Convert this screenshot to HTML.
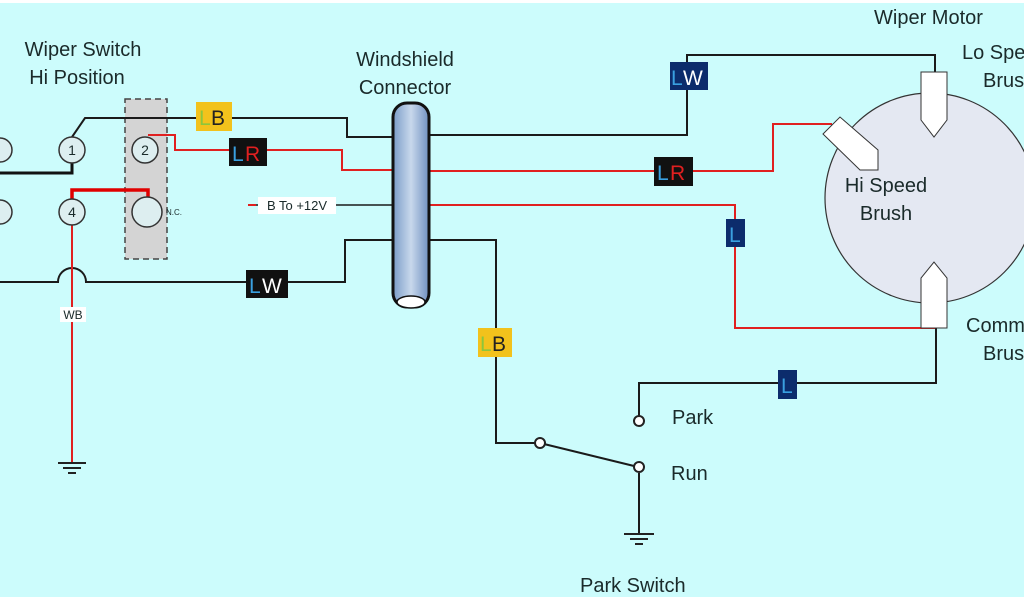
<!DOCTYPE html>
<html><head><meta charset="utf-8"><style>
html,body{margin:0;padding:0;background:#ccfcfc;}
svg{display:block;}
text{font-family:"Liberation Sans",sans-serif;fill:#1a2a2a;}
</style></head><body>
<svg width="1024" height="600" viewBox="0 0 1024 600" xmlns="http://www.w3.org/2000/svg">
<rect x="0" y="0" width="1024" height="600" fill="#ccfcfc"/>
<rect x="0" y="0" width="1024" height="3" fill="#fff"/>
<rect x="0" y="597" width="1024" height="3" fill="#fff"/>
<rect x="125" y="99" width="42" height="160" fill="#d4d4d4" stroke="#444" stroke-width="1.5" stroke-dasharray="6,4"/>
<g fill="none" stroke-linejoin="miter">
<path d="M72,137 L85,118 L347,118 L347,137 L392,137" stroke="#1a1a1a" stroke-width="2"/>
<path d="M72,163 L72,173 L0,173" stroke="#111" stroke-width="3"/>
<path d="M0,282 L58,282 A14,14 0 0 1 86,282 L345,282 L345,240 L392,240" stroke="#1a1a1a" stroke-width="2"/>
<path d="M148,135 L175,135 L175,150 L342,150 L342,170 L392,170" stroke="#e02020" stroke-width="2"/>
<path d="M72,200 L72,190 L148,190 L148,200" stroke="#e00000" stroke-width="3.5"/>
<path d="M72,224 L72,463" stroke="#e02020" stroke-width="2"/>
<path d="M248,205 L392,205" stroke="#1a1a1a" stroke-width="1.5"/>
<path d="M248,205 L256,205" stroke="#e02020" stroke-width="2"/>
<path d="M430,135 L687,135 L687,55 L935,55 L935,75" stroke="#1a1a1a" stroke-width="2"/>
<path d="M430,171 L773,171 L773,124 L832,124" stroke="#e02020" stroke-width="2"/>
<path d="M430,205 L735,205 L735,328 L935,328" stroke="#e02020" stroke-width="2"/>
<path d="M430,240 L496,240 L496,443 L536,443" stroke="#1a1a1a" stroke-width="2"/>
<path d="M544,444 L634,466" stroke="#1a1a1a" stroke-width="2"/>
<path d="M639,473 L639,533" stroke="#1a1a1a" stroke-width="2"/>
<path d="M639,417 L639,383 L936,383 L936,328" stroke="#1a1a1a" stroke-width="2"/>
</g>
<g stroke="#222" stroke-width="2">
<line x1="58" y1="463" x2="86" y2="463"/><line x1="63" y1="468" x2="81" y2="468"/><line x1="68" y1="473" x2="76" y2="473"/>
<line x1="624" y1="534" x2="654" y2="534"/><line x1="630" y1="539" x2="648" y2="539"/><line x1="635" y1="544" x2="643" y2="544"/>
</g>
<g fill="#ddeef0" stroke="#333" stroke-width="1.5">
<circle cx="72" cy="150" r="13"/><circle cx="72" cy="212" r="13"/>
<circle cx="0" cy="150" r="12"/><circle cx="0" cy="212" r="12"/>
<circle cx="145" cy="150" r="13"/><circle cx="147" cy="212" r="15"/>
</g>
<g font-size="14" text-anchor="middle"><text x="72" y="155">1</text><text x="72" y="217">4</text><text x="145" y="155">2</text></g>
<text x="166" y="215" font-size="8">N.C.</text>
<defs><linearGradient id="g" x1="0" x2="1"><stop offset="0" stop-color="#7a9cc8"/><stop offset="0.5" stop-color="#c8d8ec"/><stop offset="1" stop-color="#7090c0"/></linearGradient></defs>
<rect x="393" y="103" width="36" height="204" rx="14" fill="url(#g)" stroke="#111" stroke-width="3"/>
<ellipse cx="411" cy="302" rx="14" ry="6" fill="#fff" stroke="#111" stroke-width="1.5"/>
<circle cx="930" cy="198" r="105" fill="#e4e8f2" stroke="#333" stroke-width="1.2"/>
<polygon points="921,72 947,72 947,120 934,137 921,120" fill="#fff" stroke="#333" stroke-width="1"/>
<polygon points="921,328 947,328 947,278 934,262 921,278" fill="#fff" stroke="#333" stroke-width="1"/>
<polygon points="823,134 840,117 878,150 878,170 860,170" fill="#fff" stroke="#333" stroke-width="1"/>
<g fill="#fff" stroke="#222" stroke-width="2"><circle cx="540" cy="443" r="5"/><circle cx="639" cy="467" r="5"/><circle cx="639" cy="421" r="5"/></g>
<g font-size="21">
<rect x="196" y="102" width="36" height="29" fill="#f2c21c"/><text x="199" y="125" style="fill:#8cc63c">L</text><text x="211" y="125" style="fill:#222">B</text>
<rect x="229" y="138" width="38" height="28" fill="#111"/><text x="232" y="161" style="fill:#3aa0e0">L</text><text x="245" y="161" style="fill:#e02020">R</text>
<rect x="246" y="270" width="42" height="28" fill="#111"/><text x="249" y="293" style="fill:#3aa0e0">L</text><text x="262" y="293" style="fill:#fff">W</text>
<rect x="670" y="62" width="38" height="28" fill="#0c2c6c"/><text x="671" y="85" style="fill:#3aa0e0">L</text><text x="683" y="85" style="fill:#fff">W</text>
<rect x="654" y="157" width="39" height="29" fill="#111"/><text x="657" y="180" style="fill:#3aa0e0">L</text><text x="670" y="180" style="fill:#e02020">R</text>
<rect x="726" y="219" width="19" height="28" fill="#0c2c6c"/><text x="729" y="242" style="fill:#3aa0e0">L</text>
<rect x="778" y="370" width="19" height="29" fill="#0c2c6c"/><text x="781" y="393" style="fill:#3aa0e0">L</text>
<rect x="478" y="328" width="34" height="29" fill="#f2c21c"/><text x="480" y="351" style="fill:#8cc63c">L</text><text x="492" y="351" style="fill:#222">B</text>
</g>
<rect x="258" y="197" width="78" height="17" fill="#fff"/>
<text x="297" y="210" font-size="13" text-anchor="middle">B To +12V</text>
<rect x="60" y="307" width="26" height="15" fill="#fff"/>
<text x="73" y="319" font-size="12" text-anchor="middle">WB</text>
<g font-size="20">
<text x="83" y="56" text-anchor="middle">Wiper Switch</text>
<text x="77" y="84" text-anchor="middle">Hi Position</text>
<text x="405" y="66" text-anchor="middle">Windshield</text>
<text x="405" y="94" text-anchor="middle">Connector</text>
<text x="874" y="24">Wiper Motor</text>
<text x="962" y="59">Lo Speed</text>
<text x="983" y="87">Brush</text>
<text x="886" y="192" text-anchor="middle">Hi Speed</text>
<text x="886" y="220" text-anchor="middle">Brush</text>
<text x="966" y="332">Commutator</text>
<text x="983" y="360">Brush</text>
<text x="672" y="424">Park</text>
<text x="671" y="480">Run</text>
<text x="580" y="592">Park Switch</text>
</g>
</svg>
</body></html>
